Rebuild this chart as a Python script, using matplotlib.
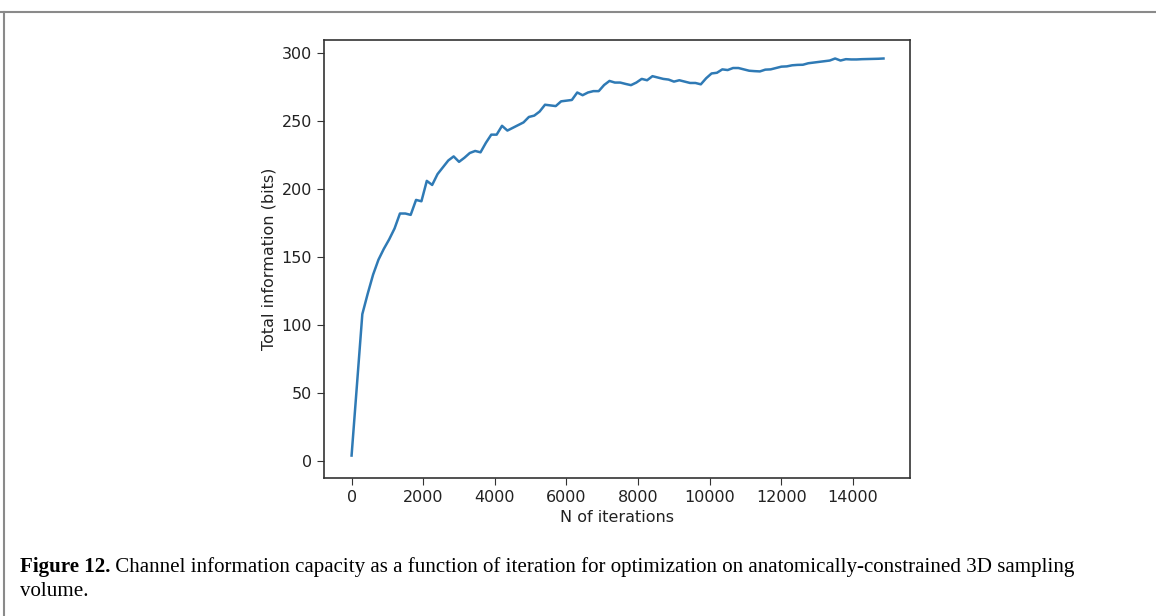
import numpy as np
import matplotlib.pyplot as plt
from matplotlib.lines import Line2D

# iteration step between logged points
step = 150
info_bits = [
    4, 56, 108, 123, 137, 148, 156, 163, 171, 182,
    182, 181, 192, 191, 206, 203, 211, 216, 221, 224,
    220, 223, 226.5, 228, 227, 234, 240, 240, 246.5, 243,
    245, 247, 249, 253, 254, 257, 262, 261.5, 261, 264.5,
    265, 265.5, 271, 269, 271, 272, 272, 276.5, 279.5, 278.3,
    278.3, 277.3, 276.4, 278.3, 281, 280, 283, 282, 281, 280.5,
    279, 280, 279, 278, 278, 277, 281.5, 285, 285.5, 288,
    287.5, 289, 289, 288, 287, 286.7, 286.5, 287.8, 288, 289,
    290, 290.2, 291, 291.3, 291.4, 292.5, 293, 293.5, 294, 294.5,
    296, 294.5, 295.5, 295.3, 295.3, 295.5, 295.6, 295.7, 295.8, 296,
]
iterations = np.arange(len(info_bits)) * step

x_ticks = [0, 2000, 4000, 6000, 8000, 10000, 12000, 14000]
y_ticks = [0, 50, 100, 150, 200, 250, 300]

caption_bold = 'Figure 12.'
caption_rest = (' Channel information capacity as a function of iteration for optimization '
                'on anatomically-constrained 3D sampling')
caption_line2 = 'volume.'

fig = plt.figure(figsize=(11.56, 6.16), dpi=100)

# page frame lines (top and left)
fig.add_artist(Line2D([0, 1], [1 - 12 / 616, 1 - 12 / 616], color='#8a8a8a', lw=1.5))
fig.add_artist(Line2D([4 / 1156, 4 / 1156], [0, 1 - 12 / 616], color='#8a8a8a', lw=1.5))

ax = fig.add_axes([324 / 1156, 1 - 478 / 616, (910 - 324) / 1156, (478 - 40) / 616])
ax.plot(iterations, info_bits, color='#2f7ab5', lw=1.8)
ax.set_xlim(-770, 15590)
ax.set_ylim(-12.5, 309.6)
ax.set_xticks(x_ticks)
ax.set_yticks(y_ticks)
ax.tick_params(labelsize=11.5, length=5, color='#333333', labelcolor='#222222')
ax.set_xlabel('N of iterations', fontsize=11.5, color='#222222')
ax.set_ylabel('Total information (bits)', fontsize=11.5, color='#222222')
for s in ax.spines.values():
    s.set_color('#333333')
    s.set_linewidth(1.2)

# caption
cap_size = 15.1
t = fig.text(20 / 1156, 1 - 567 / 616, caption_bold, fontsize=cap_size, fontweight='bold',
             family='Liberation Serif', va='center', ha='left')
fig.canvas.draw()
bb = t.get_window_extent()
fig.text(bb.x1 / 1156, 1 - 567 / 616, caption_rest, fontsize=cap_size,
         family='Liberation Serif', va='center', ha='left')
fig.text(20 / 1156, 1 - 591 / 616, caption_line2, fontsize=cap_size,
         family='Liberation Serif', va='center', ha='left')

fig.savefig('out.png', dpi=100)
